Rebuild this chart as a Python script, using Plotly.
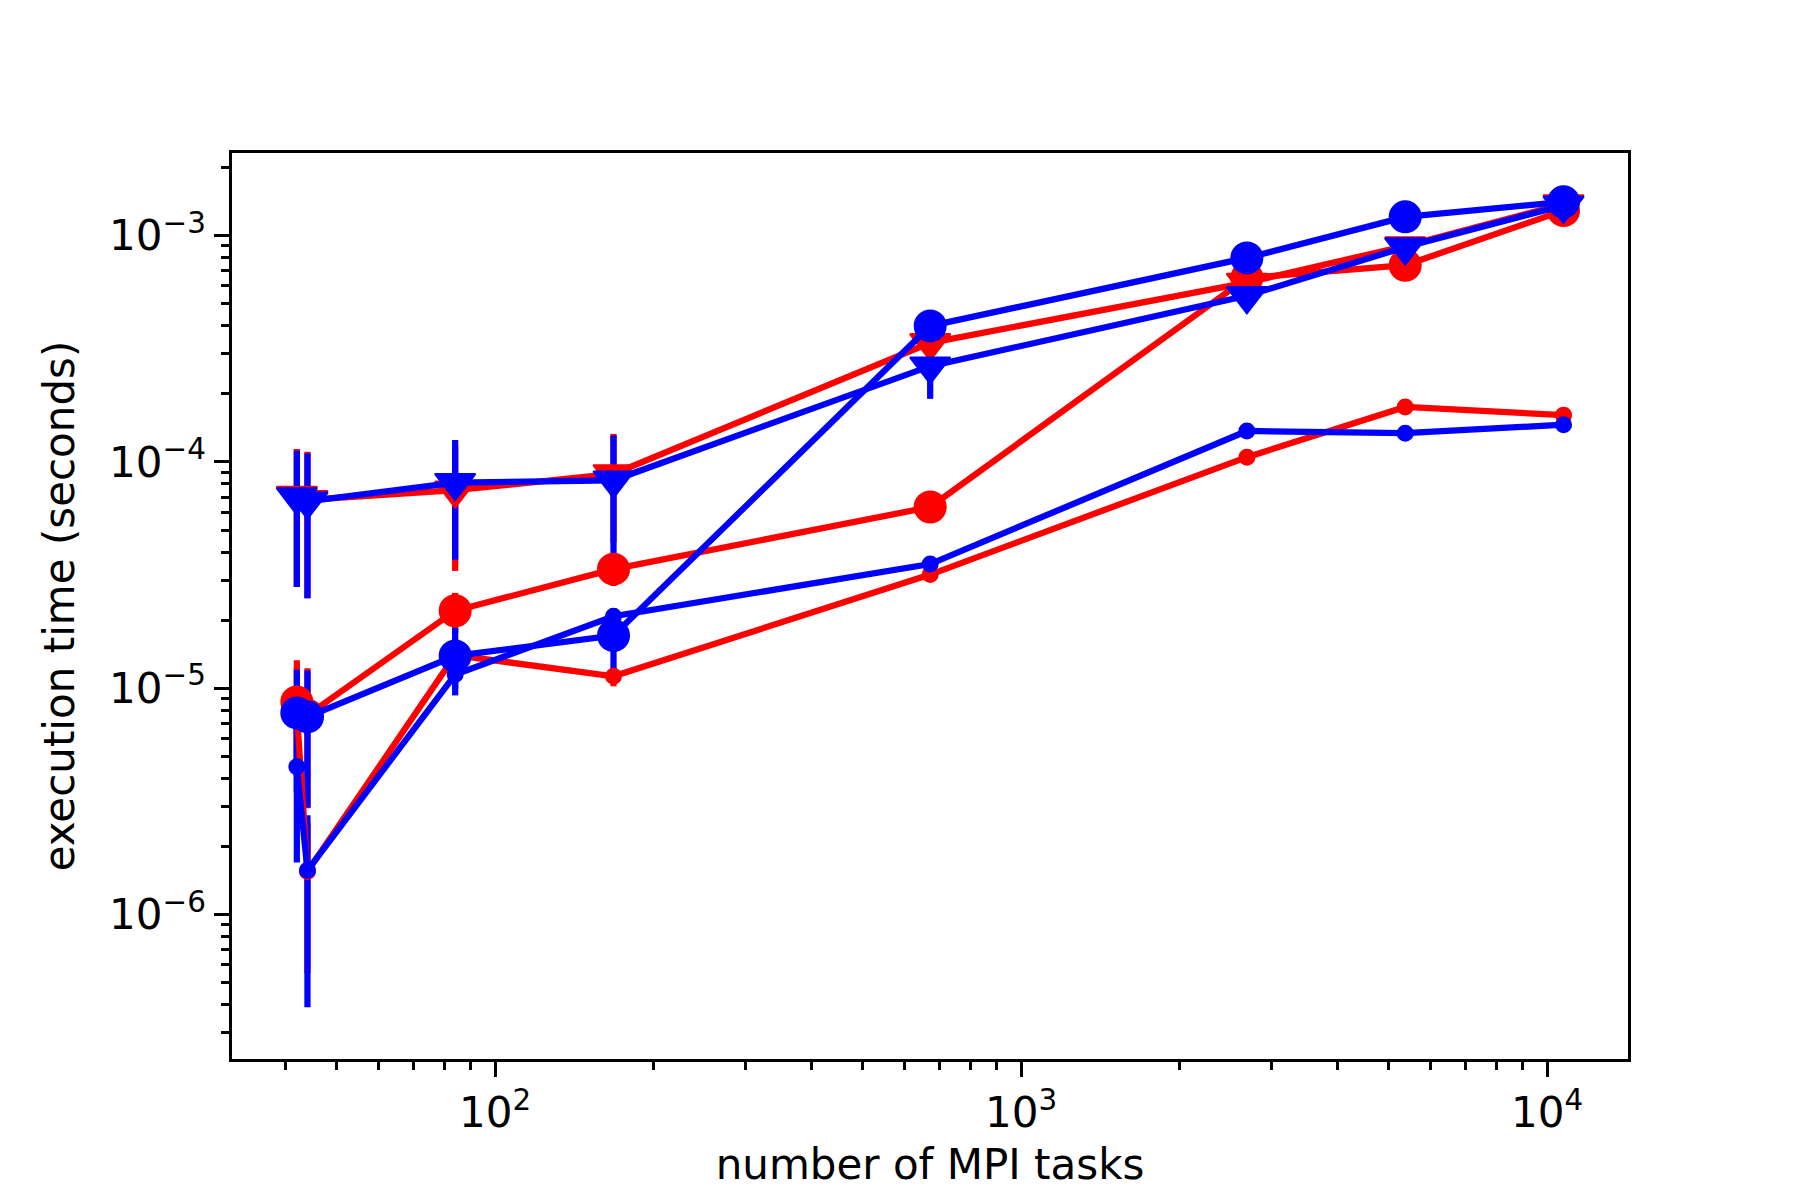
import plotly.graph_objects as go

# MPI task counts (same for every series)
tasks = [42, 44, 84, 168, 672, 2688, 5376, 10752]

# execution times in seconds
red_tri = [7.1e-5, 6.8e-5, 7.5e-5, 8.85e-5, 3.36e-4, 6.2e-4, 9.0e-4, 1.38e-3]
red_tri_err = [4.3e-5, 4.3e-5, 4.2e-5, 4.45e-5, 2e-5, 3e-5, 4e-5, 6e-5]

red_big = [8.7e-6, 7.6e-6, 2.2e-5, 3.36e-5, 6.32e-5, 6.5e-4, 7.4e-4, 1.29e-3]
red_big_err = [4.6e-6, 4.65e-6, 4.4e-6, 5.3e-6, 3e-6, 3e-5, 3e-5, 5e-5]

red_small = [7.8e-6, 1.55e-6, 1.4e-5, 1.13e-5, 3.18e-5, 1.05e-4, 1.75e-4, 1.61e-4]
red_small_err = [1.5e-6, 1.0e-6, 1.0e-6, 1.1e-6, 1.5e-6, 5e-6, 6e-6, 6e-6]

blue_tri = [7.0e-5, 6.7e-5, 8.1e-5, 8.3e-5, 2.65e-4, 5.42e-4, 8.9e-4, 1.36e-3]
blue_tri_err = [4.2e-5, 4.2e-5, 4.4e-5, 4.8e-5, 7.5e-5, 5.5e-5, 5e-5, 5e-5]

blue_big = [7.78e-6, 7.47e-6, 1.39e-5, 1.71e-5, 3.99e-4, 7.97e-4, 1.21e-3, 1.41e-3]
blue_big_err = [4.3e-6, 4.5e-6, 4.6e-6, 5.5e-6, 2e-5, 3e-5, 5e-5, 5e-5]

blue_small = [4.5e-6, 1.57e-6, 1.15e-5, 2.08e-5, 3.54e-5, 1.37e-4, 1.34e-4, 1.46e-4]
blue_small_err = [2.8e-6, 1.18e-6, 1.5e-6, 1.5e-6, 1.5e-6, 5e-6, 5e-6, 5e-6]

RED = '#ff0000'
BLUE = '#0000ff'

# (values, errors, colour, symbol, size)
series = [
    (red_tri, red_tri_err, RED, 'triangle-down', 35),
    (red_big, red_big_err, RED, 'circle', 31),
    (red_small, red_small_err, RED, 'circle', 15),
    (blue_tri, blue_tri_err, BLUE, 'triangle-down', 35),
    (blue_big, blue_big_err, BLUE, 'circle', 31),
    (blue_small, blue_small_err, BLUE, 'circle', 15),
]

fig = go.Figure()

# error bars first so they sit under every line and marker
for vals, errs, col, sym, size in series:
    fig.add_trace(go.Scatter(
        x=tasks, y=vals, mode='markers',
        marker=dict(size=0, color=col),
        error_y=dict(type='data', array=errs, color=col, thickness=6.25, width=0),
        hoverinfo='skip'))

for vals, errs, col, sym, size in series:
    fig.add_trace(go.Scatter(
        x=tasks, y=vals, mode='lines+markers',
        line=dict(color=col, width=6.25),
        marker=dict(symbol=sym, size=size, color=col,
                    line=dict(color=col, width=2))))

x_minor = [k * 10 ** e for e in range(1, 5) for k in range(2, 10)]
y_minor = [k * 10.0 ** e for e in range(-7, -2) for k in range(2, 10)]

axis_common = dict(
    type='log', showgrid=False, zeroline=False,
    showline=True, linecolor='black', linewidth=3.3, mirror=True,
    ticks='outside', ticklen=14.6, tickwidth=3.3, tickcolor='black',
    tickfont=dict(family='DejaVu Sans', size=42, color='black'),
)

fig.update_xaxes(
    **axis_common,
    range=[1.5, 4.154],
    tickvals=[100, 1000, 10000],
    ticktext=['10<sup>2</sup>', '10<sup>3</sup>', '10<sup>4</sup>'],
    minor=dict(tickvals=x_minor, ticks='outside', ticklen=8.3, tickwidth=2.5, tickcolor='black'),
    title=dict(text='number of MPI tasks', font=dict(family='DejaVu Sans', size=42, color='black'), standoff=14),
)
fig.update_yaxes(
    **axis_common,
    range=[-6.638, -2.635],
    tickvals=[1e-6, 1e-5, 1e-4, 1e-3],
    ticktext=['10<sup>\u22126</sup>', '10<sup>\u22125</sup>', '10<sup>\u22124</sup>', '10<sup>\u22123</sup>'],
    minor=dict(tickvals=y_minor, ticks='outside', ticklen=8.3, tickwidth=2.5, tickcolor='black'),
    title=dict(text='execution time (seconds)', font=dict(family='DejaVu Sans', size=42, color='black'), standoff=22),
)

fig.update_layout(
    width=1800, height=1200,
    margin=dict(l=224, r=180, t=145, b=149),
    paper_bgcolor='white', plot_bgcolor='white',
    showlegend=False,
    font=dict(family='DejaVu Sans', size=42, color='black'),
)

fig.write_html("out.html")
